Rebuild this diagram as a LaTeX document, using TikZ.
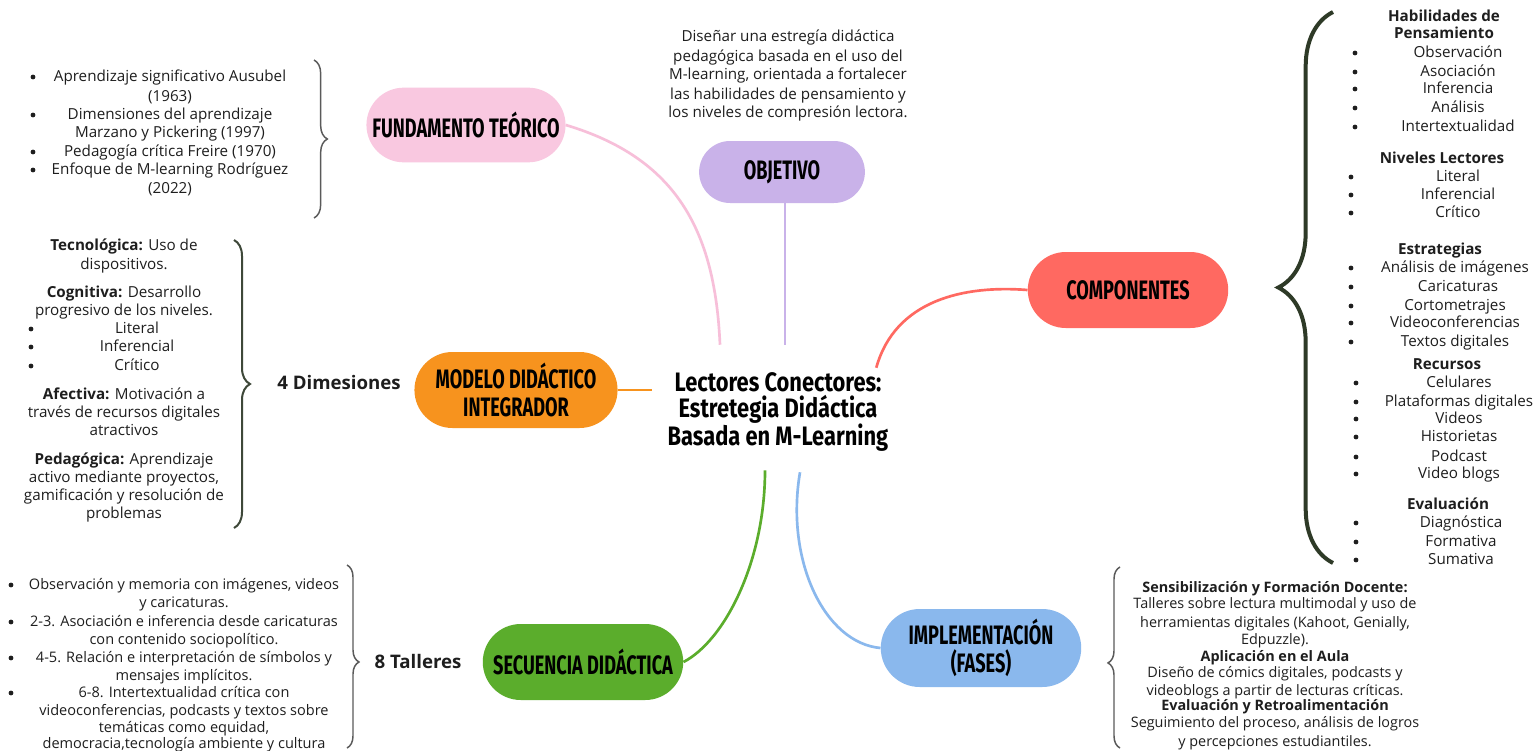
\documentclass[tikz,border=0pt]{standalone}
\usepackage{fontspec}
\usepackage{xcolor}
\usepackage{tikz}
\usetikzlibrary{shapes.misc, calc, decorations.pathreplacing, positioning}
\setmainfont{Open Sans}
\newfontfamily\titlefont[FakeStretch=0.68]{Fira Sans}
\newfontfamily\centerfont[FakeStretch=0.82]{Fira Sans}

\definecolor{txtcol}{HTML}{1E1E1E}
\definecolor{pinkbox}{HTML}{F9C8E0}
\definecolor{pinkline}{HTML}{F7BFD9}
\definecolor{lilac}{HTML}{C9B2E9}
\definecolor{coral}{HTML}{FF6961}
\definecolor{tangerine}{HTML}{F7931E}
\definecolor{leaf}{HTML}{5BAD2C}
\definecolor{skyblue}{HTML}{8AB8ED}
\definecolor{bracegray}{HTML}{5A5A5A}
\definecolor{bracegreen}{HTML}{2E3A27}

\begin{document}
\begin{tikzpicture}[x=0.75pt,y=-0.75pt,
    box/.style={rounded rectangle, minimum width=157pt, minimum height=57pt,
      align=center, text=black, font=\titlefont\bfseries\fontsize{20}{21}\selectfont},
    txt/.style={anchor=base, inner sep=0pt, text=txtcol, font=\fontsize{11.4}{13}\selectfont},
    smalltxt/.style={txt, font=\fontsize{10.8}{12}\selectfont},
    dot/.style={circle, fill=txtcol, inner sep=0pt, minimum size=3.6pt},
    link/.style={line width=2pt},
    brc/.style={decorate, decoration={brace, amplitude=#1}}]
  \useasboundingbox (0,0) rectangle (1538,750);
  \fill[white] (0,0) rectangle (1538,750);

  % main topic and branches
  \node[align=center, minimum width=189pt, minimum height=100.5pt,
    font=\centerfont\bfseries\fontsize{20}{19.5}\selectfont] (central) at (778,412)
    {Lectores Conectores:\\ Estretegia Didáctica\\ Basada en M-Learning};
  \node[box, fill=pinkbox, minimum width=156pt, minimum height=56pt] (fund) at (466,125) {FUNDAMENTO TEÓRICO};
  \node[box, fill=lilac, minimum width=131pt, minimum height=46.5pt] (obj) at (782,172) {OBJETIVO};
  \node[box, fill=coral] (comp) at (1128,290) {COMPONENTES};
  \node[box, fill=tangerine, minimum width=159pt] (model) at (516,390) {MODELO DIDÁCTICO\\INTEGRADOR};
  \node[box, fill=leaf] (secu) at (583,662) {SECUENCIA DIDÁCTICA};
  \node[box, fill=skyblue, minimum height=58.5pt] (impl) at (981,648) {IMPLEMENTACIÓN\\(FASES)};

  \draw[link, pinkline] (fund.east) .. controls +(110,33) and +(-5,-115) .. ($(central.north)+(-58,0)$);
  \draw[link, lilac] ($(obj.south)+(3,0)$) -- ($(central.north)+(7,0)$);
  \draw[link, coral] ($(central.north east)+(-28,23)$) .. controls +(19,-68) and +(-63,-5) .. (comp.west);
  \draw[link, tangerine] (model.east) -- (model.east -| central.west);
  \draw[link, leaf] ($(central.south)+(-13,-9)$) .. controls +(0,90) and +(42,-22) .. (secu.east);
  \draw[link, skyblue] ($(central.south)+(22,-7)$) .. controls +(-15,88) and +(-56,-5) .. (impl.west);

  % braces
  \draw[brc=10pt, bracegray, line width=1.1pt] (314,60) -- (314,218);
  \draw[brc=12pt, bracegreen!80!gray, line width=1.5pt] (234,240) -- (234,528);
  \draw[brc=9pt, bracegray, line width=1.1pt, decoration={aspect=0.53}] (347,565) -- (347,748);
  \draw[brc=41pt, bracegreen, line width=3pt] (1333,563) -- (1333,12);
  \draw[brc=9pt, bracegray, line width=1.1pt, decoration={aspect=0.47}] (1120,748) -- (1120,567);

  \node[txt, font=\bfseries\fontsize{14}{15}\selectfont] (dims) at (339,389) {4 Dimesiones};
  \node[txt, font=\bfseries\fontsize{14}{15}\selectfont] (talleres) at (418,668) {8 Talleres};

  % fundamento teorico
  \foreach \y/\t [count=\i] in {81/{Aprendizaje significativo Ausubel}, 101/{(1963)},
      119/{Dimensiones del aprendizaje}, 137/{Marzano y Pickering (1997)},
      156/{Pedagogía crítica Freire (1970)}, 174/{Enfoque de M-learning Rodríguez}, 193/{(2022)}}
    \node[txt] (ft\i) at (170,\y) {\t};
  \foreach \y [count=\i] in {77,115,152,170}
    \node[dot] (ftb\i) at (33,\y) {};

  % objetivo
  \foreach \y/\t [count=\i] in {41/{Diseñar una estregía didáctica}, 61/{pedagógica basada en el uso del},
      79/{M-learning, orientada a fortalecer}, 99/{las habilidades de pensamiento y},
      117/{los niveles de compresión lectora.}}
    \node[txt] (ob\i) at (788,\y) {\t};

  % dimensiones
  \foreach \x/\y/\t [count=\i] in {124/250/{\textbf{Tecnológica:} Uso de}, 124/269/{dispositivos.},
      124/297/{\textbf{Cognitiva:} Desarrollo}, 124/315/{progresivo de los niveles.},
      137/333/{Literal}, 137/351/{Inferencial}, 137/370/{Crítico},
      124/399/{\textbf{Afectiva:} Motivación a}, 124/417/{través de recursos digitales},
      124/435/{atractivos}, 124/464/{\textbf{Pedagógica:} Aprendizaje},
      124/482/{activo mediante proyectos,}, 124/500/{gamificación y resolución de},
      124/518/{problemas}}
    \node[txt] (dm\i) at (\x,\y) {\t};
  \foreach \y [count=\i] in {329,347,366}
    \node[dot] (dmb\i) at (31,\y) {};

  % talleres
  \foreach \y/\t [count=\i] in {589/{Observación y memoria con imágenes, videos}, 607/{y caricaturas.},
      626/{2-3. Asociación e inferencia desde caricaturas}, 644/{con contenido sociopolítico.},
      662/{4-5. Relación e interpretación de símbolos y}, 680/{mensajes implícitos.},
      697/{6-8. Intertextualidad crítica con}, 715/{videoconferencias, podcasts y textos sobre},
      732/{temáticas como equidad,}, 748/{democracia,tecnología ambiente y cultura}}
    \node[txt, font=\fontsize{10.9}{12}\selectfont] (ta\i) at (184,\y) {\t};
  \foreach \y [count=\i] in {585,622,658,693}
    \node[dot] (tab\i) at (11,\y) {};

  % componentes
  \foreach \x/\y/\t [count=\i] in {1444/21/{\textbf{Habilidades de}}, 1444/38/{\textbf{Pensamiento}},
      1458/57/{Observación}, 1458/76/{Asociación}, 1458/93/{Inferencia}, 1458/112/{Análisis},
      1458/131/{Intertextualidad}, 1442/163/{\textbf{Niveles Lectores}},
      1458/181/{Literal}, 1458/199/{Inferencial}, 1458/217/{Crítico},
      1440/254/{\textbf{Estrategias}}, 1455/272/{Análisis de imágenes}, 1458/291/{Caricaturas},
      1455/310/{Cortometrajes}, 1455/327/{Videoconferencias}, 1455/346/{Textos digitales},
      1447/369/{\textbf{Recursos}}, 1459/387/{Celulares}, 1459/406/{Plataformas digitales},
      1459/423/{Videos}, 1459/441/{Historietas}, 1459/461/{Podcast}, 1459/478/{Video blogs},
      1448/509/{\textbf{Evaluación}}, 1461/527/{Diagnóstica}, 1461/546/{Formativa},
      1461/564/{Sumativa}}
    \node[txt] (co\i) at (\x,\y) {\t};
  \foreach \x/\y [count=\i] in {1355/53,1355/72,1355/89,1355/108,1355/127,1351/177,1351/195,
      1351/213,1351/268,1351/287,1351/306,1351/323,1351/342,1356/383,1356/402,1356/419,
      1356/437,1356/457,1356/474,1356/523,1356/542,1356/560}
    \node[dot] (cob\i) at (\x,\y) {};

  % fases
  \foreach \y/\t [count=\i] in {592/{\textbf{Sensibilización y Formación Docente:}},
      608/{Talleres sobre lectura multimodal y uso de}, 627/{herramientas digitales (Kahoot, Genially,},
      644/{Edpuzzle).}, 661/{\textbf{Aplicación en el Aula}}, 677/{Diseño de cómics digitales, podcasts y},
      695/{videoblogs a partir de lecturas críticas.}, 710/{\textbf{Evaluación y Retroalimentación}},
      727/{Seguimiento del proceso, análisis de logros}, 746/{y percepciones estudiantiles.}}
    \node[smalltxt] (fa\i) at (1275,\y) {\t};
\end{tikzpicture}
\end{document}
